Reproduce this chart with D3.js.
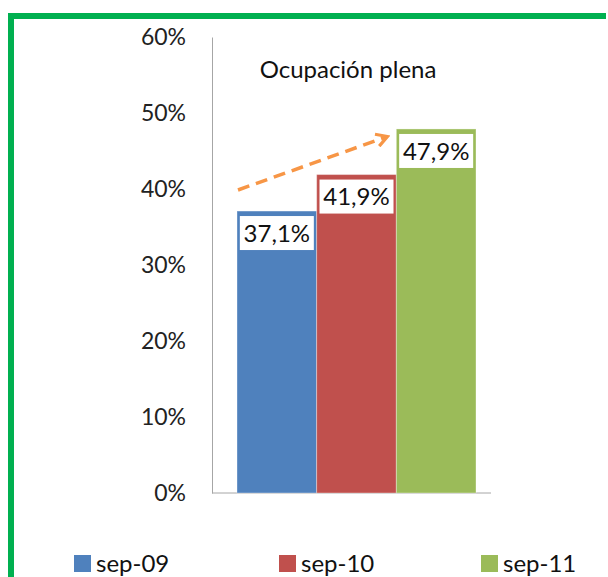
<!DOCTYPE html>
<html>
<head>
<meta charset="utf-8">
<script src="https://cdn.jsdelivr.net/npm/d3@7"></script>
<style>
	body { margin: 0; background: #fff; }
	svg { display: block; font-family: Lato, "Open Sans", sans-serif; }
</style>
</head>
<body>
<svg id="chart" width="608" height="577"></svg>
<script>
'use strict';

var series = ['sep-09', 'sep-10', 'sep-11'];
var values = [37.1, 41.9, 47.9];
var valueLabels = ['37,1%', '41,9%', '47,9%'];
var colors = ['#4f81bd', '#c0504d', '#9bbb59'];
var yTicks = [0, 10, 20, 30, 40, 50, 60];
var title = 'Ocupación plena';

var svg = d3.select('#chart');

// green frame (top + left)
svg.append('path')
	.attr('d', 'M11,577 V16 H606')
	.attr('fill', 'none')
	.attr('stroke', '#00b050')
	.attr('stroke-width', 6);

var yScale = d3.scaleLinear().domain([0, 60]).range([493, 37]);
var xScale = d3.scaleBand().domain(series).range([237, 476]).padding(0);

// y axis
var yAxis = d3.axisLeft(yScale)
	.tickValues(yTicks)
	.tickSize(0)
	.tickPadding(26)
	.tickFormat(function(d) { return d + '%'; });

var gy = svg.append('g')
	.attr('transform', 'translate(212,0)')
	.call(yAxis);
gy.select('.domain').attr('stroke', '#a6a6a6');
gy.selectAll('text')
	.attr('font-size', 23)
	.attr('fill', '#222')
	.attr('font-family', 'Lato, sans-serif');

// baseline
svg.append('line')
	.attr('x1', 212).attr('x2', 491)
	.attr('y1', yScale(0)).attr('y2', yScale(0))
	.attr('stroke', '#a6a6a6');

// bars
svg.selectAll('.bar')
	.data(values)
	.enter()
	.append('rect')
	.attr('class', 'bar')
	.attr('x', function(d, i) { return xScale(series[i]); })
	.attr('y', function(d) { return yScale(d); })
	.attr('width', xScale.bandwidth())
	.attr('height', function(d) { return yScale(0) - yScale(d); })
	.attr('fill', function(d, i) { return colors[i]; })
	.attr('stroke', 'rgba(255,255,255,0.35)')
	.attr('stroke-width', 1);

// value labels with white boxes
var lab = svg.selectAll('.vlabel')
	.data(values)
	.enter()
	.append('g')
	.attr('class', 'vlabel')
	.attr('transform', function(d, i) {
		return 'translate(' + (xScale(series[i]) + xScale.bandwidth() / 2) + ',' + (yScale(d) + 22) + ')';
	});
lab.append('rect')
	.attr('x', -37).attr('y', -17)
	.attr('width', 74).attr('height', 34)
	.attr('fill', '#fff');
lab.append('text')
	.attr('text-anchor', 'middle')
	.attr('dy', '0.36em')
	.attr('font-size', 24)
	.attr('fill', '#111')
	.text(function(d, i) { return valueLabels[i]; });

// title
svg.append('text')
	.attr('x', 348).attr('y', 78)
	.attr('text-anchor', 'middle')
	.attr('font-size', 24)
	.attr('fill', '#111')
	.text(title);

// dashed trend arrow
svg.append('defs').append('marker')
	.attr('id', 'arrow')
	.attr('viewBox', '0 0 10 10')
	.attr('refX', 7).attr('refY', 5)
	.attr('markerWidth', 4.5).attr('markerHeight', 4.5)
	.attr('orient', 'auto')
	.append('path')
	.attr('d', 'M1,1 L8,5 L1,9')
	.attr('fill', 'none')
	.attr('stroke', '#f79646')
	.attr('stroke-width', 2);

svg.append('line')
	.attr('x1', 238).attr('y1', 190)
	.attr('x2', 386).attr('y2', 137)
	.attr('stroke', '#f79646')
	.attr('stroke-width', 3.5)
	.attr('stroke-dasharray', '12,7')
	.attr('marker-end', 'url(#arrow)');

// legend
var legendX = [74, 279, 481];
var leg = svg.selectAll('.legend')
	.data(series)
	.enter()
	.append('g')
	.attr('class', 'legend')
	.attr('transform', function(d, i) { return 'translate(' + legendX[i] + ',555)'; });
leg.append('rect')
	.attr('width', 17).attr('height', 17)
	.attr('fill', function(d, i) { return colors[i]; });
leg.append('text')
	.attr('x', 22).attr('y', 8)
	.attr('dy', '0.36em')
	.attr('font-size', 24)
	.attr('fill', '#111')
	.text(function(d) { return d; });
</script>
</body>
</html>
